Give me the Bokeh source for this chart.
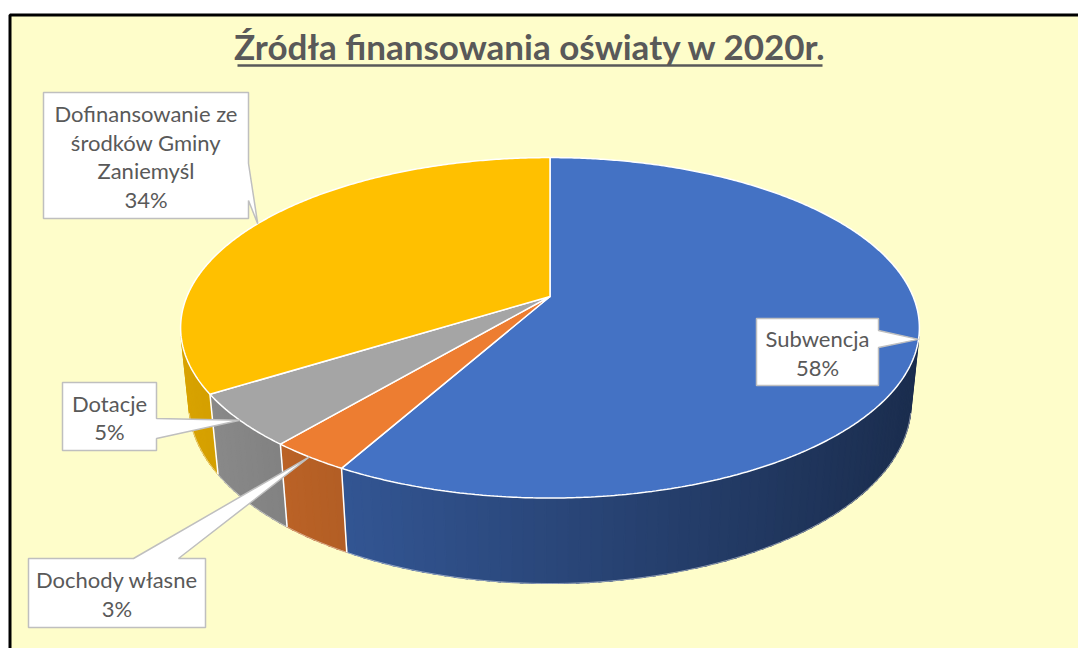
import numpy as np
from bokeh.plotting import figure
from bokeh.models import Range1d, ColumnDataSource
from bokeh.embed import file_html
from bokeh.resources import INLINE
from bokeh.core.properties import value

# ---------------- data ----------------
title = "Źródła finansowania oświaty w 2020r."
categories = ["Subwencja", "Dochody własne", "Dotacje",
              "Dofinansowanie ze środków Gminy Zaniemyśl"]
label_lines = ["Subwencja", "Dochody własne", "Dotacje",
               "Dofinansowanie ze\nśrodków Gminy\nZaniemyśl"]
shares = [58, 3, 5, 34]
top_colors = ["#4472C4", "#ED7D31", "#A5A5A5", "#FFC000"]

# ---------------- layout / style ----------------
W, Hpx = 1078, 648
FONT = "Lato"
TEXT_COLOR = "#595959"
BG = "#FEFDCA"

# perspective pie geometry (screen coordinates)
CX, CY = 549.5, 296.0
S = 1761.0
D = 4.85
PHI = np.arcsin(0.453)
THICK = 0.235


def proj(t_deg, h=0.0):
    t = np.radians(np.asarray(t_deg, dtype=float))
    X = np.sin(t)
    Z = np.cos(t)
    yc = h * np.cos(PHI) + Z * np.sin(PHI)
    zc = D + Z * np.cos(PHI) - h * np.sin(PHI)
    return CX + S * X / zc, CY - S * yc / zc


def hex2rgb(h):
    h = h.lstrip("#")
    return tuple(int(h[i:i + 2], 16) for i in (0, 2, 4))


def shade(hexcol, u):
    f = 0.85 - 0.45 * (u - 180.0) / 740.0
    f = max(0.35, min(0.9, f))
    r, g, b = hex2rgb(hexcol)
    return "#%02x%02x%02x" % (int(r * f), int(g * f), int(b * f))


p = figure(width=W, height=Hpx, x_range=Range1d(0, W), y_range=Range1d(Hpx, 0),
           output_backend="svg", toolbar_location=None,
           x_axis_location=None, y_axis_location=None, min_border=0)
p.outline_line_color = None
p.background_fill_color = "white"
p.border_fill_color = "white"
p.xgrid.visible = False
p.ygrid.visible = False

# chart area frame
p.quad(left=9.5, right=1200, top=14.5, bottom=800, fill_color=BG,
       line_color="black", line_width=3)

# slice angles (clockwise from the back)
total = float(sum(shares))
bounds = np.concatenate([[0.0], np.cumsum(shares) / total * 360.0])

t_vis = np.degrees(np.arccos(-1.0 / (D * np.cos(PHI))))
t_lo, t_hi = t_vis, 360.0 - t_vis

# ---- side walls (gradient strips) ----
wx, wy, wc = [], [], []
for i in range(len(shares)):
    a, b = max(bounds[i], t_lo), min(bounds[i + 1], t_hi)
    if b <= a:
        continue
    n = max(2, int(np.ceil((b - a) / 1.5)))
    ts = np.linspace(a, b, n + 1)
    for k in range(n):
        t0, t1 = ts[k], min(ts[k + 1] + 0.4, b)
        x0t, y0t = proj(t0, 0.0)
        x1t, y1t = proj(t1, 0.0)
        x0b, y0b = proj(t0, -THICK)
        x1b, y1b = proj(t1, -THICK)
        wx.append([x0t, x1t, x1b, x0b])
        wy.append([y0t, y1t, y1b, y0b])
        wc.append(shade(top_colors[i], 0.5 * (x0t + x1t)))
p.patches(xs="xs", ys="ys", fill_color="c", line_color="c", line_width=1.2,
          source=ColumnDataSource(dict(xs=wx, ys=wy, c=wc)))

# wall separators
sx, sy = [], []
for bd in bounds[1:-1]:
    if t_lo < bd < t_hi:
        xt, yt = proj(bd, 0.0)
        xb, yb = proj(bd, -THICK)
        sx.append([xt, xb])
        sy.append([yt, yb])
p.multi_line(xs=sx, ys=sy, line_color="white", line_width=1.5)

# bottom edge of wall
tb = np.linspace(t_lo, t_hi, 200)
bx, by = proj(tb, -THICK)
p.line(bx, by, line_color="white", line_width=0.8, line_alpha=0.6)

# ---- top face slices ----
tx, ty = [], []
for i in range(len(shares)):
    ts = np.linspace(bounds[i], bounds[i + 1], max(3, int((bounds[i + 1] - bounds[i]) * 2)))
    rx, ry = proj(ts, 0.0)
    tx.append([CX] + list(rx))
    ty.append([CY] + list(ry))
p.patches(xs=tx, ys=ty, fill_color=top_colors, line_color="white", line_width=1.5)

# ---- callouts ----
boxes = [(756, 318, 878, 385), (28, 558, 205, 627), (62, 382, 156, 450), (43, 92, 248, 218)]
tail_side = ["right", "top", "right", "right"]
tail_base = [(330, 347), (133, 178), (418, 438), (163, 200)]

cx_, cy_ = [], []
lab_x, lab_y, lab_t = [], [], []
for i in range(len(shares)):
    mid = 0.5 * (bounds[i] + bounds[i + 1])
    tipx, tipy = proj(mid, 0.0)
    x0, y0, x1, y1 = boxes[i]
    b0, b1 = tail_base[i]
    if tail_side[i] == "right":
        xs = [x0, x1, x1, float(tipx), x1, x1, x0]
        ys = [y0, y0, b0, float(tipy), b1, y1, y1]
    else:  # top
        xs = [x0, b0, float(tipx), b1, x1, x1, x0]
        ys = [y0, y0, float(tipy), y0, y0, y1, y1]
    cx_.append(xs)
    cy_.append(ys)
    lab_x.append(0.5 * (x0 + x1))
    lab_y.append(0.5 * (y0 + y1) + 1)
    lab_t.append(f"{label_lines[i]}\n{shares[i]}%")

p.patches(xs=cx_, ys=cy_, fill_color="white", line_color="#BFBFBF", line_width=1.5)
p.text(x=lab_x, y=lab_y, text=lab_t, text_font=value(FONT), text_font_size=value("22px"),
       text_color=TEXT_COLOR, text_align="center", text_baseline="middle",
       text_line_height=1.07)

# ---- title ----
p.text(x=[530], y=[45], text=[title], text_font=value(FONT), text_font_size=value("35px"),
       text_font_style="bold", text_color=TEXT_COLOR, text_align="center",
       text_baseline="middle")
p.segment(x0=[237], y0=[65], x1=[822], y1=[65], line_color=TEXT_COLOR, line_width=2.5)

open("out.html", "w").write(file_html(p, INLINE))
